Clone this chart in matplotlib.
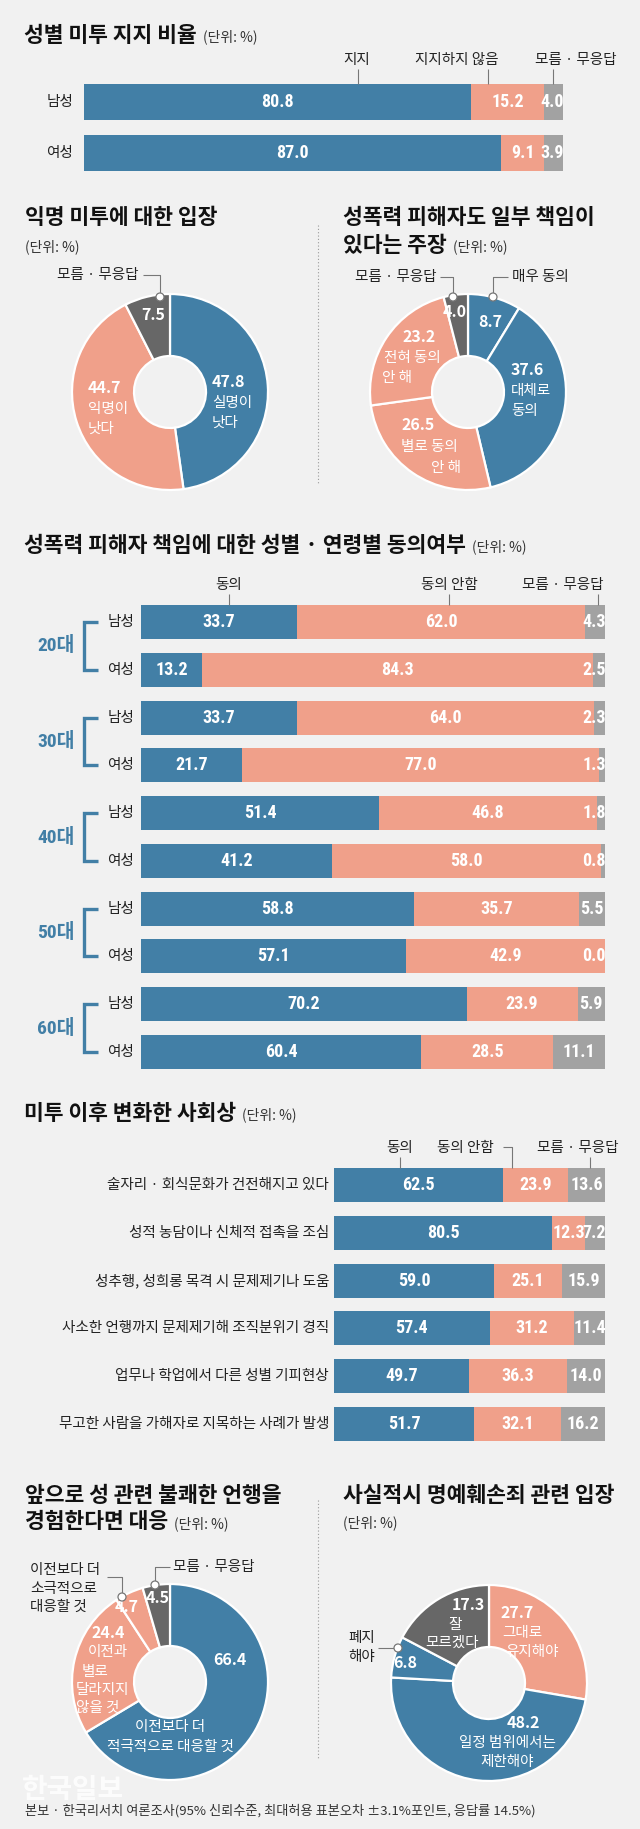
import matplotlib
matplotlib.use('Agg')
import matplotlib.pyplot as plt
from matplotlib.patches import Circle
import numpy as np

W, H, DPI = 640, 1829, 100
KR = ['Noto Sans CJK KR', 'DejaVu Sans']
NUM = ['Roboto Condensed', 'Liberation Sans Narrow', 'DejaVu Sans', 'Noto Sans CJK KR']
plt.rcParams['font.family'] = KR

BLUE = '#427fa6'
PINK = '#f0a08a'
GRAY = '#a2a2a2'
DGRAY = '#676767'
BG = '#f1f1f1'
TXT = '#222222'
TFS = 15.5

# ---------------- data ----------------
s1_cats = ['남성', '여성']
s1_support = [80.8, 87.0]
s1_oppose = [15.2, 9.1]
s1_unknown = [4.0, 3.9]
s1_legend = ['지지', '지지하지 않음', '모름 · 무응답']

anon_labels = ['실명이\n낫다', '익명이\n낫다', '모름 · 무응답']
anon_values = [47.8, 44.7, 7.5]

blame_labels = ['매우 동의', '대체로\n동의', '별로 동의\n안 해', '전혀 동의\n안 해', '모름 · 무응답']
blame_values = [8.7, 37.6, 26.5, 23.2, 4.0]

ages = ['20대', '30대', '40대', '50대', '60대']
genders = ['남성', '여성']
age_agree = [33.7, 13.2, 33.7, 21.7, 51.4, 41.2, 58.8, 57.1, 70.2, 60.4]
age_disagree = [62.0, 84.3, 64.0, 77.0, 46.8, 58.0, 35.7, 42.9, 23.9, 28.5]
age_unknown = [4.3, 2.5, 2.3, 1.3, 1.8, 0.8, 5.5, 0.0, 5.9, 11.1]
age_legend = ['동의', '동의 안함', '모름 · 무응답']

soc_items = ['술자리 · 회식문화가 건전해지고 있다',
             '성적 농담이나 신체적 접촉을 조심',
             '성추행, 성희롱 목격 시 문제제기나 도움',
             '사소한 언행까지 문제제기해 조직분위기 경직',
             '업무나 학업에서 다른 성별 기피현상',
             '무고한 사람을 가해자로 지목하는 사례가 발생']
soc_agree = [62.5, 80.5, 59.0, 57.4, 49.7, 51.7]
soc_disagree = [23.9, 12.3, 25.1, 31.2, 36.3, 32.1]
soc_unknown = [13.6, 7.2, 15.9, 11.4, 14.0, 16.2]
soc_legend = ['동의', '동의 안함', '모름 · 무응답']

resp_labels = ['이전보다 더\n적극적으로 대응할 것', '이전과\n별로\n달라지지\n않을 것',
               '이전보다 더\n소극적으로\n대응할 것', '모름 · 무응답']
resp_values = [66.4, 24.4, 4.7, 4.5]

def_labels = ['그대로\n유지해야', '일정 범위에서는\n제한해야', '폐지\n해야', '잘\n모르겠다']
def_values = [27.7, 48.2, 6.8, 17.3]

source = '본보 · 한국리서치 여론조사(95% 신뢰수준, 최대허용 표본오차 ±3.1%포인트, 응답률 14.5%)'

# ---------------- figure ----------------
fig = plt.figure(figsize=(W / DPI, H / DPI), dpi=DPI, facecolor=BG)


def ax_at(x, y, w, h):
    ax = fig.add_axes([x / W, 1 - (y + h) / H, w / W, h / H])
    ax.set_axis_off()
    ax.patch.set_alpha(0)
    return ax


cv = fig.add_axes([0, 0, 1, 1], zorder=10)
cv.set_xlim(0, W)
cv.set_ylim(H, 0)
cv.set_axis_off()
cv.patch.set_alpha(0)


def T(x, y, s, fs=10, ha='left', va='center', color=TXT, weight='normal', family=None, **kw):
    return cv.text(x, y, s, fontsize=fs, ha=ha, va=va, color=color, fontweight=weight,
                   family=family if family else KR, **kw)


def L(xs, ys, color='#777777', lw=0.8, **kw):
    cv.plot(xs, ys, color=color, lw=lw, solid_capstyle='butt', **kw)


def dot(x, y):
    cv.add_patch(Circle((x, y), 4, fc='white', ec='#777777', lw=0.9, zorder=12))


renderer = fig.canvas.get_renderer()


def title_with_unit(x, y, s, fs=TFS, unit=True):
    t = T(x, y, s, fs=fs, weight='bold', color='#111111')
    if unit:
        bb = t.get_window_extent(renderer=renderer)
        T(bb.x1 + 6, y + 2, '(단위: %)', fs=10, color='#333333')
    return t


def stacked(x, y, w, h, series, colors, bar_h):
    n = len(series[0])
    ax = ax_at(x, y, w, h)
    yy = np.arange(n)
    left = np.zeros(n)
    half = 11 / (w / 100.0)
    for vals, col in zip(series, colors):
        vals = np.asarray(vals, dtype=float)
        ax.barh(yy, vals, left=left, height=bar_h, color=col, edgecolor='none')
        for yi, l, v in zip(yy, left, vals):
            cx = min(l + v / 2, 100 - half)
            ax.text(cx, yi, f'{v:.1f}', ha='center', va='center', color='white',
                    fontsize=13, fontweight='bold', family=NUM, fontstretch='condensed')
        left += vals
    ax.set_xlim(0, 100)
    ax.set_ylim(n - 1 + bar_h / 2, -bar_h / 2)
    return ax


def row_px(ax, i):
    disp = ax.transData.transform((0, i))
    return H - disp[1]


def donut(cx, cy, values, colors, r=98):
    rr = r * 1.02
    ax = ax_at(cx - rr, cy - rr, 2 * rr, 2 * rr)
    ax.pie(values, colors=colors, startangle=90, counterclock=False, radius=1,
           wedgeprops=dict(width=1 - 36 / 98, edgecolor='white', linewidth=1.6))
    ax.set_xlim(-1.02, 1.02)
    ax.set_ylim(-1.02, 1.02)
    ax.set_aspect('equal')
    return ax


def seg_label(x, y, num, text=None, ha='left', dy=20, tcolor='white', nfs=11.5, tfs=10.5):
    T(x, y, f'{num:.1f}', fs=nfs, ha=ha, color='white', weight='bold')
    if text:
        for k, line in enumerate(text.split('\n')):
            T(x, y + dy * (k + 1) + 1, line, fs=tfs, ha=ha, color=tcolor)


# ================= Section 1 =================
title_with_unit(24, 35, '성별 미투 지지 비율')
ax1 = stacked(84, 84, 479, 87, [s1_support, s1_oppose, s1_unknown], [BLUE, PINK, GRAY], 0.706)
for i, c in enumerate(s1_cats):
    T(73, row_px(ax1, i), c, fs=10.5, ha='right')
for lab, lx, tx in zip(s1_legend, [357, 457, 576], [358, 488, 553]):
    T(lx, 60, lab, fs=10.5, ha='center')
    L([tx, tx], [69, 84])

# ================= Section 2 =================
title_with_unit(25, 217, '익명 미투에 대한 입장', unit=False)
T(25, 247, '(단위: %)', fs=10, color='#333333')
donut(170, 392, anon_values, [BLUE, PINK, DGRAY])
seg_label(212, 382, anon_values[0], anon_labels[0], ha='left')
seg_label(88, 388, anon_values[1], anon_labels[1], ha='left')
T(153, 315, f'{anon_values[2]:.1f}', fs=11.5, ha='center', color='white', weight='bold')
T(57, 275, anon_labels[2], fs=10.5)
L([143, 160, 160], [275, 275, 297])
dot(160, 297)

cv.plot([318, 318], [225, 485], color='#9a9a9a', lw=0.8, ls=(0, (1, 2)))

T(343, 218, '성폭력 피해자도 일부 책임이', fs=TFS, weight='bold', color='#111111')
title_with_unit(343, 245, '있다는 주장')
donut(468, 392, blame_values, [BLUE, BLUE, PINK, PINK, DGRAY])
T(512, 277, blame_labels[0], fs=10.5)
L([508, 493, 493], [277, 277, 297])
dot(493, 297)
T(490, 322, f'{blame_values[0]:.1f}', fs=11.5, ha='center', color='white', weight='bold')
seg_label(511, 370, blame_values[1], blame_labels[1], ha='left')
T(418, 425, f'{blame_values[2]:.1f}', fs=11.5, ha='center', color='white', weight='bold')
T(429, 447, blame_labels[2].split('\n')[0], fs=10.5, ha='center', color='white')
T(446, 468, blame_labels[2].split('\n')[1], fs=10.5, ha='center', color='white')
T(419, 337, f'{blame_values[3]:.1f}', fs=11.5, ha='center', color='white', weight='bold')
T(412, 358, blame_labels[3].split('\n')[0], fs=10.5, ha='center', color='white')
T(397, 378, blame_labels[3].split('\n')[1], fs=10.5, ha='center', color='white')
T(455, 312, f'{blame_values[4]:.1f}', fs=11.5, ha='center', color='white', weight='bold')
T(355, 277, blame_labels[4], fs=10.5)
L([440, 453, 453], [277, 277, 297])
dot(453, 297)

# ================= Section 3 =================
title_with_unit(24, 545, '성폭력 피해자 책임에 대한 성별 · 연령별 동의여부')
ax3 = stacked(141, 605, 464, 464, [age_agree, age_disagree, age_unknown], [BLUE, PINK, GRAY], 0.711)
for lab, lx, tx in zip(age_legend, [229, 449, 563], [229, 449, 598]):
    T(lx, 585, lab, fs=10.5, ha='center')
    L([tx, tx], [594, 605])
for g, age in enumerate(ages):
    y1 = row_px(ax3, 2 * g)
    y2 = row_px(ax3, 2 * g + 1)
    cv.plot([98, 84, 84, 98], [y1, y1, y2, y2], color=BLUE, lw=2.4, solid_joinstyle='miter',
            solid_capstyle='butt')
    T(56, (y1 + y2) / 2, age, fs=14, ha='center', color=BLUE, weight='bold', family=NUM,
      fontstretch='condensed')
    for k in range(2):
        T(134, row_px(ax3, 2 * g + k), genders[k], fs=10.5, ha='right')

# ================= Section 4 =================
title_with_unit(24, 1113, '미투 이후 변화한 사회상')
ax4 = stacked(334, 1168, 271, 273, [soc_agree, soc_disagree, soc_unknown], [BLUE, PINK, GRAY], 0.714)
for i, item in enumerate(soc_items):
    T(329, row_px(ax4, i), item, fs=10.5, ha='right')
T(400, 1148, soc_legend[0], fs=10.5, ha='center')
L([400, 400], [1157, 1168])
T(465, 1148, soc_legend[1], fs=10.5, ha='center')
L([503, 512, 512], [1147, 1147, 1168])
T(578, 1148, soc_legend[2], fs=10.5, ha='center')
L([590, 590], [1157, 1168])

# ================= Section 5 =================
T(25, 1495, '앞으로 성 관련 불쾌한 언행을', fs=TFS, weight='bold', color='#111111')
title_with_unit(25, 1522, '경험한다면 대응')
donut(170, 1682, resp_values, [BLUE, PINK, PINK, DGRAY])
T(230, 1660, f'{resp_values[0]:.1f}', fs=11.5, ha='center', color='white', weight='bold')
for k, line in enumerate(resp_labels[0].split('\n')):
    T(170, 1727 + 20 * k, line, fs=10.5, ha='center', color='white')
T(108, 1633, f'{resp_values[1]:.1f}', fs=11.5, ha='center', color='white', weight='bold')
for line, x, y in zip(resp_labels[1].split('\n'), [108, 95, 102, 98], [1652, 1672, 1690, 1708]):
    T(x, y, line, fs=10.5, ha='center', color='white')
T(127, 1607, f'{resp_values[2]:.1f}', fs=11.5, ha='center', color='white', weight='bold')
for k, line in enumerate(resp_labels[2].split('\n')):
    T(30, 1570 + 18.5 * k, line, fs=10.5)
L([107, 122, 122], [1577, 1577, 1597])
dot(122, 1597)
T(158, 1598, f'{resp_values[3]:.1f}', fs=11.5, ha='center', color='white', weight='bold')
T(173, 1567, resp_labels[3], fs=10.5)
L([170, 155, 155], [1567, 1567, 1585])
dot(155, 1585)

cv.plot([318, 318], [1500, 1760], color='#9a9a9a', lw=0.8, ls=(0, (1, 2)))

T(343, 1495, '사실적시 명예훼손죄 관련 입장', fs=TFS, weight='bold', color='#111111')
T(343, 1523, '(단위: %)', fs=10, color='#333333')
donut(489, 1683, def_values, [PINK, BLUE, BLUE, DGRAY])
T(517, 1613, f'{def_values[0]:.1f}', fs=11.5, ha='center', color='white', weight='bold')
for line, x, y in zip(def_labels[0].split('\n'), [522, 532], [1633, 1652]):
    T(x, y, line, fs=10.5, ha='center', color='white')
T(523, 1723, f'{def_values[1]:.1f}', fs=11.5, ha='center', color='white', weight='bold')
for line, y in zip(def_labels[1].split('\n'), [1743, 1762]):
    T(507, y, line, fs=10.5, ha='center', color='white')
T(405, 1663, f'{def_values[2]:.1f}', fs=11.5, ha='center', color='white', weight='bold')
for line, y in zip(def_labels[2].split('\n'), [1638, 1657]):
    T(362, y, line, fs=10.5, ha='center')
L([378, 398], [1648, 1648])
dot(398, 1648)
T(468, 1605, f'{def_values[3]:.1f}', fs=11.5, ha='center', color='white', weight='bold')
for line, x, y in zip(def_labels[3].split('\n'), [455, 452], [1625, 1643]):
    T(x, y, line, fs=10.5, ha='center', color='white')

# footer + watermark
T(22, 1790, '한국일보', fs=20, weight='bold', color='white', alpha=0.85)
T(25, 1811, source, fs=9.5, color='#333333')

fig.savefig('out.png', dpi=DPI, facecolor=BG)
